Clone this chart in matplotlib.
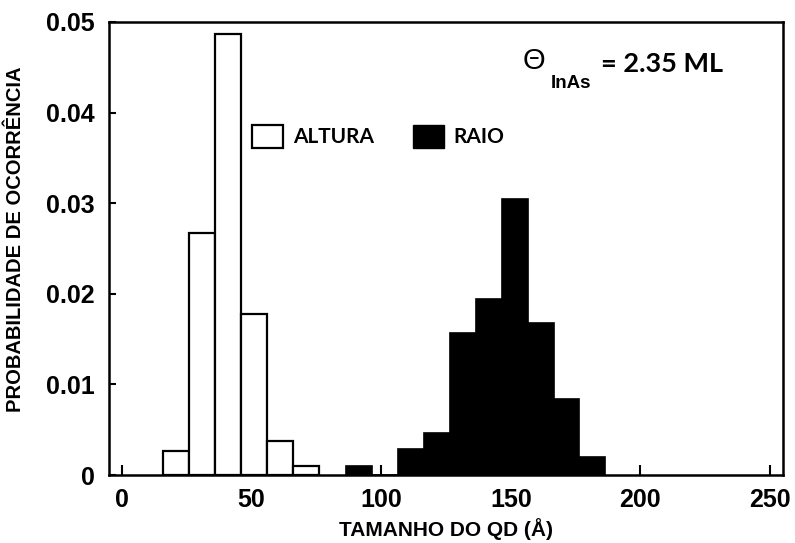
import numpy as np
import matplotlib.pyplot as plt
from matplotlib.patches import Patch

# histogram data (bin left edge in Angstrom, width 10)
altura_left = [16, 26, 36, 46, 56, 66]
altura_prob = [0.0027, 0.0267, 0.0487, 0.0178, 0.0038, 0.0010]

raio_left = [86.5, 96.5, 106.5, 116.5, 126.5, 136.5, 146.5, 156.5, 166.5, 176.5]
raio_prob = [0.0010, 0.0, 0.0029, 0.0046, 0.0157, 0.0194, 0.0305, 0.0168, 0.0084, 0.0020]

bin_width = 10
x_ticks = [0, 50, 100, 150, 200, 250]
y_ticks = [0, 0.01, 0.02, 0.03, 0.04, 0.05]
y_ticklabels = ['0', '0.01', '0.02', '0.03', '0.04', '0.05']

fig = plt.figure(figsize=(7.95, 5.43), dpi=100)
ax = fig.add_axes([0.1371, 0.1252, 0.8478, 0.8343])

ax.bar(raio_left, raio_prob, width=bin_width, align='edge',
       color='black', edgecolor='black', linewidth=1.2, zorder=2)
ax.bar(altura_left, altura_prob, width=bin_width, align='edge',
       color='white', edgecolor='black', linewidth=1.6, zorder=3)

ax.set_xlim(-5, 255)
ax.set_ylim(0, 0.05)
ax.set_xticks(x_ticks)
ax.set_yticks(y_ticks)
ax.set_yticklabels(y_ticklabels)

tick_font = dict(family='Liberation Sans', weight='bold', size=18)
for lab in ax.get_xticklabels() + ax.get_yticklabels():
    lab.set_fontproperties(tick_font)
ax.tick_params(axis='x', direction='in', length=7, width=1.5, pad=9)
ax.tick_params(axis='y', direction='in', length=5, width=1.5, pad=10)

for s in ax.spines.values():
    s.set_linewidth(1.8)

ax.set_xlabel('TAMANHO DO QD (Å)', family='Liberation Sans', weight='bold',
              size=15, labelpad=5)
ax.set_ylabel('PROBABILIDADE DE OCORRÊNCIA', family='Liberation Sans',
              weight='bold', size=14.5)
ax.yaxis.set_label_coords(-0.125, 0.52)

handles = [Patch(facecolor='white', edgecolor='black', linewidth=1.6),
           Patch(facecolor='black', edgecolor='black')]
ax.legend(handles, ['ALTURA', 'RAIO'], ncol=2, frameon=False,
          loc='upper left', bbox_to_anchor=(252 / 795, 1 - 125 / 543),
          bbox_transform=fig.transFigure, borderpad=0, borderaxespad=0,
          handlelength=1.5, handleheight=1.3, handletextpad=0.45,
          columnspacing=1.9,
          prop=dict(family='Lato', weight='bold', size=15))

# coverage annotation
fig.text(534 / 795, 1 - 61 / 543, 'Θ', family='Liberation Sans', size=21,
         ha='center', va='center')
fig.text(551 / 795, 1 - 84 / 543, 'InAs', family='Liberation Sans',
         weight='bold', size=13.5, ha='left', va='center')
fig.text(601 / 795, 1 - 64 / 543, '= 2.35 ML', family='Lato',
         weight='bold', size=19.5, ha='left', va='center')

fig.savefig('out.png', dpi=100)
